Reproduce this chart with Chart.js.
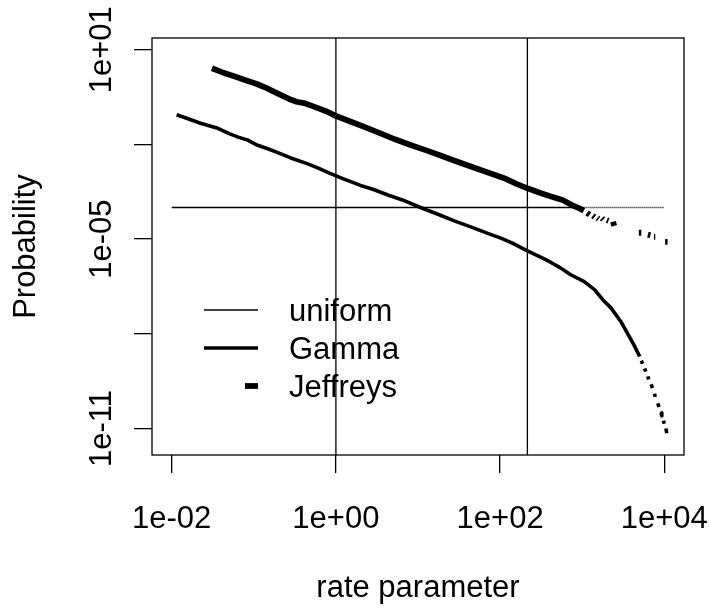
<!DOCTYPE html>
<html>
<head>
<meta charset="utf-8">
<script src="https://cdn.jsdelivr.net/npm/chart.js@4.4.1/dist/chart.umd.min.js"></script>
<style>
  html, body { margin: 0; padding: 0; background: #fff; }
  canvas { display: block; }
</style>
</head>
<body>
<canvas id="chart" width="709" height="610"></canvas>
<script>
// Prior densities for the rate parameter, log-log axes.
// Curve values are kept as base-10 exponents; null marks a break in the line.

// the uniform density turns into a fine hatch past the middle point
var uniformX = [1e-2, 900, 1e4];
var uniformY = [1e-4, 1e-4, 1e-4];

var gammaLogX = [-1.94, -1.80, -1.65, -1.45, -1.30, -1.19, -1.08, -0.97, -0.83, -0.70,
  -0.55, -0.35, -0.20, -0.08, 0.10, 0.30, 0.45, 0.65, 0.81, 1.03,
  1.25, 1.45, 1.65, 1.85, 2.01, 2.15, 2.32, 2.50, 2.62, 2.74,
  2.86, 3.02, 3.15, 3.25, 3.35, 3.47, 3.55, 3.63, 3.70,
  null, 3.72, 3.735, null, 3.76, 3.775, null, 3.80, 3.81, null, 3.84, 3.855,
  null, 3.88, 3.89, null, 3.92, 3.935, null, 3.96, 3.97, null, 3.99, 4.00, null, 4.02, 4.03];
var gammaLogY = [-1.06, -1.19, -1.33, -1.48, -1.66, -1.77, -1.86, -2.01, -2.14, -2.27,
  -2.43, -2.61, -2.77, -2.91, -3.10, -3.30, -3.42, -3.62, -3.76, -4.00,
  -4.22, -4.43, -4.62, -4.82, -4.97, -5.13, -5.36, -5.58, -5.74, -5.92,
  -6.13, -6.34, -6.60, -6.92, -7.18, -7.61, -7.98, -8.35, -8.72,
  null, -8.85, -8.95, null, -9.10, -9.20, null, -9.35, -9.45, null, -9.60, -9.72,
  null, -9.90, -10.00, null, -10.20, -10.32, null, -10.50, -10.60, null, -10.75, -10.85, null, -11.00, -11.15];

var jeffreysLogX = [-1.51, -1.38, -1.23, -1.10, -0.97, -0.85, -0.70, -0.57, -0.48, -0.39,
  -0.25, -0.12, 0.01, 0.20, 0.40, 0.55, 0.72, 0.90, 1.10, 1.25,
  1.43, 1.60, 1.80, 2.05, 2.20, 2.34, 2.50, 2.62, 2.76, 2.88, 2.96, 3.02,
  null, 3.06, 3.09, null, 3.13, 3.15, null, 3.185, 3.20, null, 3.24, 3.255,
  null, 3.30, 3.32, null, 3.375, 3.39, null, 3.69, 3.72, null, 3.80, 3.83,
  null, 3.875, 3.89, null, 4.01, 4.04];
var jeffreysLogY = [0.41, 0.28, 0.15, 0.03, -0.08, -0.21, -0.40, -0.56, -0.65, -0.69,
  -0.82, -0.95, -1.11, -1.30, -1.50, -1.66, -1.84, -2.01, -2.19, -2.33,
  -2.50, -2.66, -2.84, -3.07, -3.25, -3.40, -3.55, -3.65, -3.76, -3.93, -4.02, -4.10,
  null, -4.17, -4.23, null, -4.26, -4.30, null, -4.33, -4.36, null, -4.34, -4.38,
  null, -4.40, -4.42, null, -4.45, -4.58, null, -4.80, -4.80, null, -4.86, -4.88,
  null, -4.93, -4.93, null, -5.09, -5.09];

var markerX = [1, 215];

var xTickValues = [1e-2, 1e0, 1e2, 1e4];
var xTickLabels = ['1e-02', '1e+00', '1e+02', '1e+04'];
var yTickValues = [1e1, 1e-2, 1e-5, 1e-8, 1e-11];
var yTickLabels = ['1e+01', '', '1e-05', '', '1e-11'];

var X_MIN = Math.pow(10, -2.24), X_MAX = Math.pow(10, 4.24);
var Y_MIN = Math.pow(10, -11.84), Y_MAX = Math.pow(10, 1.37);

function fromLog(lx, ly) {
  return lx.map(function (v, i) {
    if (v === null || ly[i] === null) { return { x: null, y: null }; }
    return { x: Math.pow(10, v), y: Math.pow(10, ly[i]) };
  });
}

function pairs(xs, ys) {
  return xs.map(function (v, i) { return { x: v, y: ys[i] }; });
}

Chart.defaults.font.family = '"Liberation Sans", Arial, Helvetica, sans-serif';
Chart.defaults.font.size = 31;
Chart.defaults.color = '#000';

var lineBase = { borderColor: '#000', pointRadius: 0, fill: false, spanGaps: false, tension: 0 };

var datasets = [
  Object.assign({
    label: 'uniform',
    data: pairs(uniformX, uniformY),
    borderWidth: 1.3,
    segment: {
      borderDash: function (ctx) { return ctx.p0.parsed.x >= uniformX[1] ? [1, 1] : undefined; }
    }
  }, lineBase),
  Object.assign({ label: 'Gamma', data: fromLog(gammaLogX, gammaLogY), borderWidth: 3.6, borderJoinStyle: 'round' }, lineBase),
  Object.assign({ label: 'Jeffreys', data: fromLog(jeffreysLogX, jeffreysLogY), borderWidth: 5.8, borderJoinStyle: 'round', legendDash: 13 }, lineBase)
];
markerX.forEach(function (m) {
  datasets.push(Object.assign({ label: '', data: [{ x: m, y: Y_MIN }, { x: m, y: Y_MAX }], borderWidth: 1.3 }, lineBase));
});

// frame round the plot region, R style
var framePlugin = {
  id: 'frame',
  afterDatasetsDraw: function (chart) {
    var a = chart.chartArea, ctx = chart.ctx;
    ctx.save();
    ctx.strokeStyle = '#000';
    ctx.lineWidth = 1.3;
    ctx.strokeRect(a.left, a.top, a.right - a.left, a.bottom - a.top);
    ctx.restore();
  }
};

// line-sample legend without a box, inside the lower left of the plot
var sampleLegend = {
  id: 'sampleLegend',
  afterDatasetsDraw: function (chart) {
    var a = chart.chartArea, ctx = chart.ctx;
    var x1 = a.left + 52, x2 = a.left + 106, tx = a.left + 137;
    var y0 = a.top + 272, step = 38;
    ctx.save();
    ctx.strokeStyle = '#000';
    ctx.fillStyle = '#000';
    ctx.font = '31px "Liberation Sans", Arial, sans-serif';
    ctx.textBaseline = 'alphabetic';
    var row = 0;
    chart.data.datasets.forEach(function (ds) {
      if (!ds.label) { return; }
      var y = y0 + row * step;
      ctx.lineWidth = ds.borderWidth;
      ctx.beginPath();
      ctx.moveTo(ds.legendDash ? x2 - ds.legendDash : x1, y);
      ctx.lineTo(x2, y);
      ctx.stroke();
      ctx.fillText(ds.label, tx, y + 11);
      row++;
    });
    ctx.restore();
  }
};

new Chart(document.getElementById('chart'), {
  type: 'line',
  data: { datasets: datasets },
  options: {
    responsive: false,
    animation: false,
    devicePixelRatio: 1,
    layout: { padding: { top: 38, right: 25, left: 0, bottom: 0 } },
    plugins: { legend: { display: false }, tooltip: { enabled: false } },
    scales: {
      x: {
        type: 'logarithmic',
        min: X_MIN,
        max: X_MAX,
        afterBuildTicks: function (scale) {
          scale.ticks = xTickValues.map(function (v) { return { value: v }; });
        },
        afterFit: function (scale) {
          scale.height = 155;
          scale.paddingLeft = 0;
          scale.paddingRight = 0;
        },
        ticks: {
          autoSkip: false,
          maxRotation: 0,
          padding: 28,
          callback: function (v, i) { return xTickLabels[i]; }
        },
        grid: { drawOnChartArea: false, drawTicks: true, tickLength: 18, color: '#000', lineWidth: 1.3 },
        border: { display: false },
        title: { display: true, text: 'rate parameter', padding: { top: 0, bottom: 3 } }
      },
      y: {
        type: 'logarithmic',
        min: Y_MIN,
        max: Y_MAX,
        afterBuildTicks: function (scale) {
          scale.ticks = yTickValues.map(function (v) { return { value: v }; });
        },
        afterFit: function (scale) {
          scale.width = 152;
          scale.paddingTop = 0;
          scale.paddingBottom = 0;
        },
        ticks: {
          autoSkip: false,
          minRotation: 90,
          maxRotation: 90,
          crossAlign: 'center',
          padding: -12,
          callback: function (v, i) { return yTickLabels[i]; }
        },
        grid: { drawOnChartArea: false, drawTicks: true, tickLength: 18, color: '#000', lineWidth: 1.3 },
        border: { display: false },
        title: { display: true, text: 'Probability', padding: { top: 8, bottom: 0 } }
      }
    }
  },
  plugins: [framePlugin, sampleLegend]
});
</script>
</body>
</html>
